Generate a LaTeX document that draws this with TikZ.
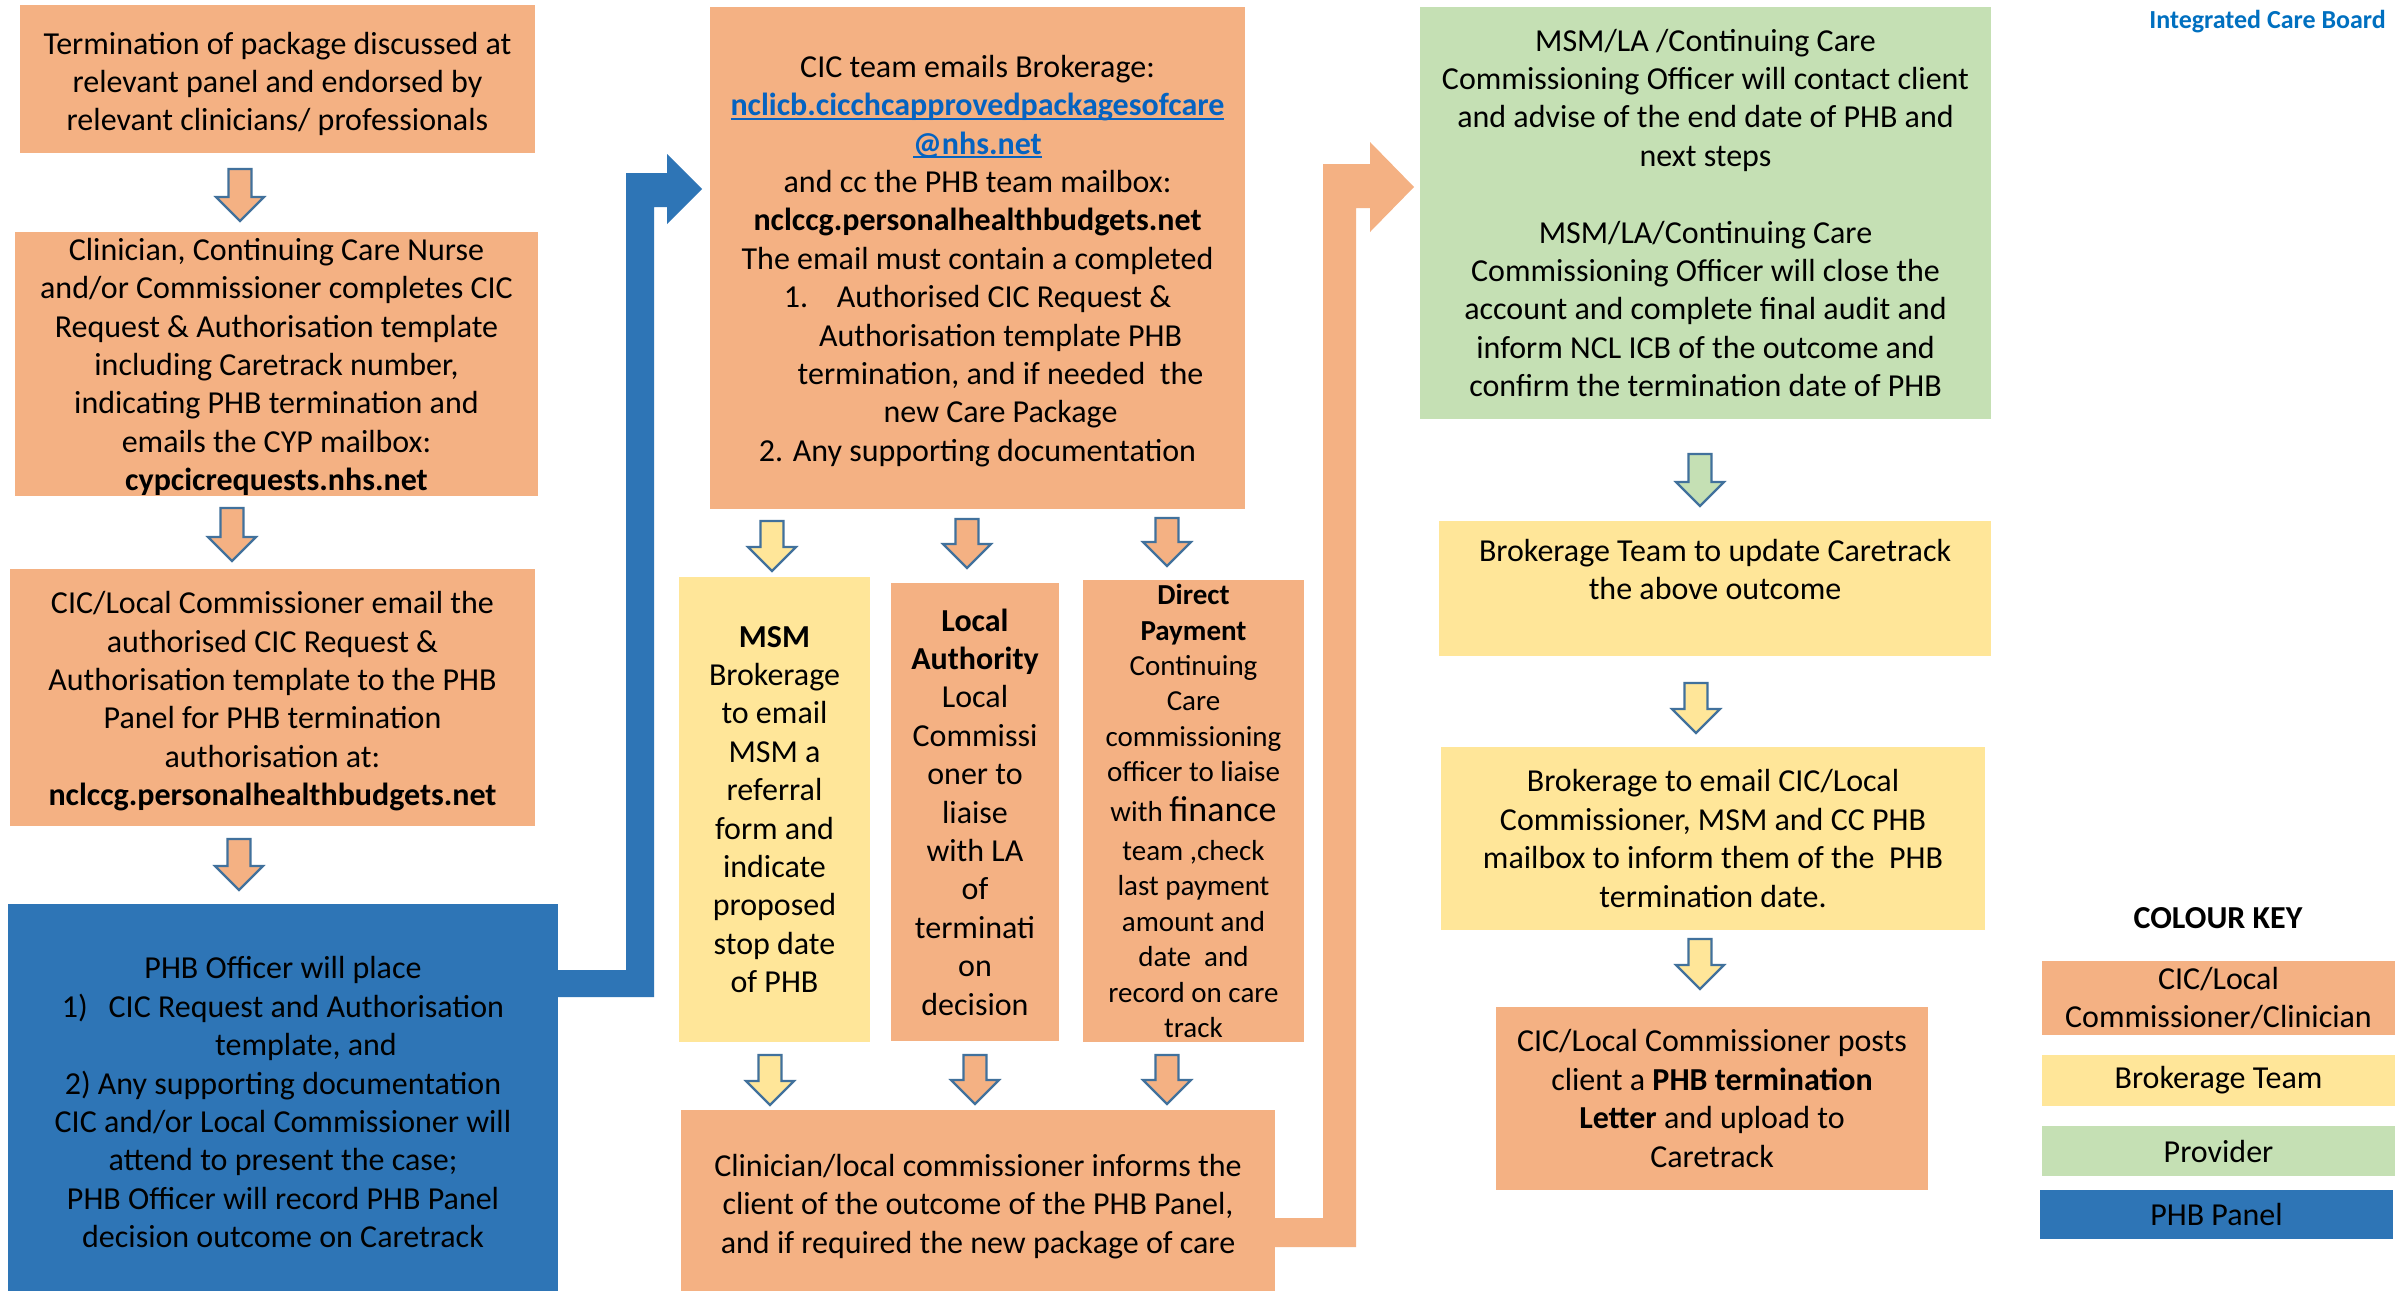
\documentclass[tikz,border=0pt]{standalone}
\usepackage{fontspec}
\setmainfont{Carlito}
\usetikzlibrary{calc}

\definecolor{corange}{HTML}{F4B183}
\definecolor{cyellow}{HTML}{FFE699}
\definecolor{cgreen}{HTML}{C5E0B4}
\definecolor{cblue}{HTML}{2E75B6}
\definecolor{carrow}{HTML}{41719C}
\definecolor{clink}{HTML}{0563C1}
\definecolor{cnhs}{HTML}{0070C0}

% underlined e-mail link
\newcommand\maillink[1]{\textcolor{clink}{\bfseries\setbox0\hbox{#1}\rlap{\rule[-4pt]{\wd0}{2pt}}\box0}}
% invisible strut that makes a first line taller, setting the text lower
\newcommand\tallfirst[1]{\rule{0pt}{#1}}

% hollow-outlined block arrow pointing down: centre x, top y, tip y, fill
\newcommand\blockarrow[4]{%
  \draw[arrowline, fill=#4] (#1-11.5,#2) -- (#1+11.5,#2) -- (#1+11.5,#3-24) -- (#1+24,#3-24)
    -- (#1,#3) -- (#1-24,#3-24) -- (#1-11.5,#3-24) -- cycle;}

\tikzset{
  box/.style={rectangle, inner sep=0pt, align=center, text=black,
              font=\fontsize{32}{38.4}\selectfont},
  smallbox/.style={box, font=\fontsize{29}{35.4}\selectfont},
  arrowline/.style={draw=carrow, line width=2.2pt, line join=miter},
}

\begin{document}
\begin{tikzpicture}[x=1pt, y=-1pt]
\useasboundingbox[fill=white] (0,0) rectangle (2402,1293);

% ---- left column ----
\node[box, fill=corange, minimum width=515, minimum height=148] (b1) at (277.5,79)
  {\tallfirst{32pt}Termination of package discussed at\\relevant panel and endorsed by\\relevant clinicians/ professionals};
\node[box, fill=corange, minimum width=523, minimum height=264] (b2) at (276.5,364)
  {\tallfirst{28pt}Clinician, Continuing Care Nurse\\and/or Commissioner completes CIC\\Request \& Authorisation template\\including Caretrack number,\\indicating PHB termination and\\emails the CYP mailbox:\\\textbf{cypcicrequests.nhs.net}};
\node[box, fill=corange, minimum width=525, minimum height=257] (b3) at (272.5,697.5)
  {\tallfirst{30pt}CIC/Local Commissioner email the\\authorised CIC Request \&\\Authorisation template to the PHB\\Panel for PHB termination\\authorisation at:\\\textbf{nclccg.personalhealthbudgets.net}};
\node[box, fill=cblue, minimum width=550, minimum height=387] (b4) at (283,1097.5)
  {\tallfirst{32pt}PHB Officer will place\\1)\hspace{0.65em}CIC Request and Authorisation\\\hspace*{46pt}template, and\\2) Any supporting documentation\\CIC and/or Local Commissioner will\\attend to present the case;\\PHB Officer will record PHB Panel\\decision outcome on Caretrack};

\blockarrow{240}{169}{221}{corange}
\blockarrow{232}{508}{561}{corange}
\blockarrow{239}{839}{890}{corange}

% ---- middle column ----
\node[box, fill=corange, minimum width=535, minimum height=502] (b5) at (977.5,258)
  {\tallfirst{28pt}CIC team emails Brokerage:\\\maillink{nclicb.cicchcapprovedpackagesofcare}\\\maillink{@nhs.net}\\and cc the PHB team mailbox:\\\textbf{nclccg.personalhealthbudgets.net}\\The email must contain a completed\\1.\hspace{0.9em}Authorised CIC Request \&\\\hspace*{46pt}Authorisation template PHB\\\hspace*{46pt}termination, and if needed\ \ the\\\hspace*{46pt}new Care Package\\2. Any supporting documentation};

\node[box, fill=cyellow, minimum width=191, minimum height=465] (b6) at (774.5,809.5)
  {\textbf{MSM}\\Brokerage\\to email\\MSM a\\referral\\form and\\indicate\\proposed\\stop date\\of PHB};
\node[box, fill=corange, minimum width=168, minimum height=458] (b7) at (975,812)
  {\textbf{Local}\\\textbf{Authority}\\Local\\Commissi\\oner to\\liaise\\with LA\\of\\terminati\\on\\decision};
\node[smallbox, fill=corange, minimum width=221, minimum height=462] (b8) at (1193.5,811)
  {\textbf{Direct}\\\textbf{Payment}\\Continuing\\Care\\commissioning\\officer to liaise\\[4pt]with {\fontsize{36}{40}\selectfont finance}\\[4pt]team ,check\\last payment\\amount and\\date\ \ and\\record on care\\track};

\node[box, fill=corange, minimum width=594, minimum height=181] (b9) at (978,1200.5)
  {\tallfirst{34pt}Clinician/local commissioner informs the\\client of the outcome of the PHB Panel,\\and if required the new package of care};

\blockarrow{772}{521}{571}{cyellow}
\blockarrow{967}{519}{568}{corange}
\blockarrow{1167}{518}{566}{corange}
\blockarrow{770}{1055}{1105}{cyellow}
\blockarrow{975}{1055}{1104}{corange}
\blockarrow{1167}{1055}{1104}{corange}

% ---- right column ----
\node[box, fill=cgreen, minimum width=571, minimum height=412] (b10) at (1705.5,213)
  {MSM/LA /Continuing Care\\Commissioning Officer will contact client\\and advise of the end date of PHB and\\next steps\\[38.4pt]MSM/LA/Continuing Care\\Commissioning Officer will close the\\account and complete final audit and\\inform NCL ICB of the outcome and\\confirm the termination date of PHB};
\node[box, fill=cyellow, minimum width=552, minimum height=135, text depth=38pt] (b11) at (1715,588.5)
  {Brokerage Team to update Caretrack\\the above outcome};
\node[box, fill=cyellow, minimum width=544, minimum height=183] (b12) at (1713,838.5)
  {Brokerage to email CIC/Local\\Commissioner, MSM and CC PHB\\mailbox to inform them of the\ \ PHB\\termination date.};
\node[box, fill=corange, minimum width=432, minimum height=183] (b13) at (1712,1098.5)
  {CIC/Local Commissioner posts\\client a \textbf{PHB termination}\\\textbf{Letter} and upload to\\Caretrack};

\blockarrow{1700}{454}{506}{cgreen}
\blockarrow{1696}{683}{733}{cyellow}
\blockarrow{1700}{939}{989}{cyellow}

% ---- bent connectors ----
% panel decision back up to the CIC team
\fill[cblue] (b4.east |- 0,970) -- (626,970) -- (626,173) -- (667,173) -- (667,154)
  -- (702,189) -- (667,224) -- (667,207) -- (654,207) -- (654,997) -- (b4.east |- 0,997) -- cycle;
% client informed, on to the provider
\fill[corange] (b9.east |- 0,1218) -- (1323,1218) -- (1323,164) -- (1370,164) -- (1370,142)
  -- (1414,187) -- (1370,232) -- (1370,208) -- (1356,208) -- (1356,1247) -- (b9.east |- 0,1247) -- cycle;

% ---- heading and colour key ----
\node[anchor=east, inner sep=0pt, text=cnhs, font=\fontsize{26}{30}\selectfont\bfseries] (icb) at (2386,22) {Integrated Care Board};

\node[box, font=\fontsize{32}{38.4}\selectfont\bfseries] (keytitle) at (2218,918) {COLOUR KEY};
\node[box, fill=corange, minimum width=353, minimum height=74] (k1) at (2218.5,998) {CIC/Local\\Commissioner/Clinician};
\node[box, fill=cyellow, minimum width=353, minimum height=51] (k2) at (2218.5,1080.5) {Brokerage Team};
\node[box, fill=cgreen, minimum width=353, minimum height=50] (k3) at (2218.5,1151) {Provider};
\node[box, fill=cblue, minimum width=353, minimum height=49] (k4) at (2216.5,1214.5) {PHB Panel};
\end{tikzpicture}
\end{document}
